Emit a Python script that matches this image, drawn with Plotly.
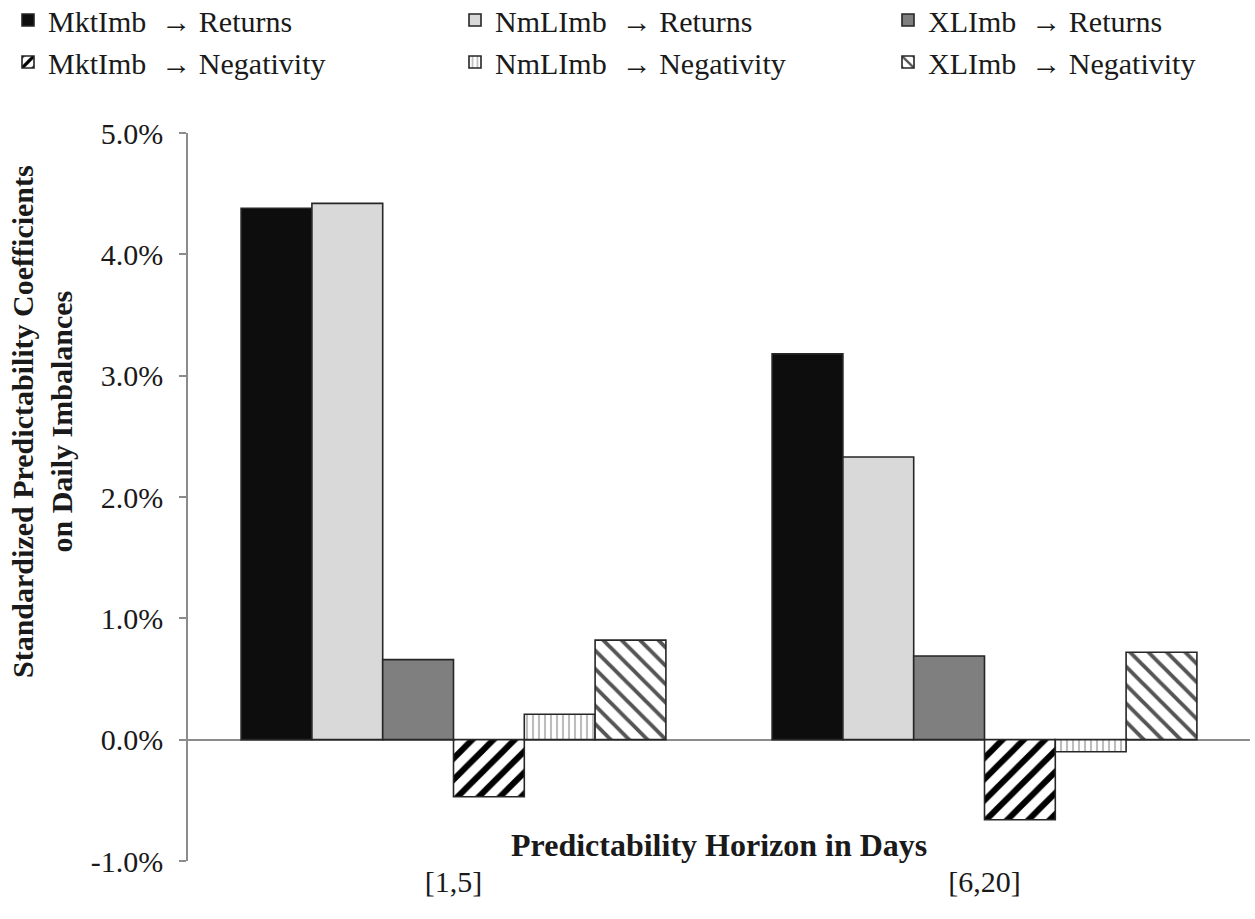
import plotly.graph_objects as go

categories = ["[1,5]", "[6,20]"]
series_names = [
    "MktImb\u00a0 → Returns",
    "NmLImb\u00a0 → Returns",
    "XLImb\u00a0 → Returns",
    "MktImb\u00a0 → Negativity",
    "NmLImb\u00a0 → Negativity",
    "XLImb\u00a0 → Negativity",
]
mkt_returns = [4.38, 3.18]
nml_returns = [4.42, 2.33]
xl_returns = [0.66, 0.69]
mkt_negativity = [-0.47, -0.66]
nml_negativity = [0.21, -0.10]
xl_negativity = [0.82, 0.72]
y_ticks = [-1, 0, 1, 2, 3, 4, 5]

series_values = [mkt_returns, nml_returns, xl_returns,
                 mkt_negativity, nml_negativity, xl_negativity]

styles = [
    dict(color="#0d0d0d", pattern=None, legend="legend"),
    dict(color="#d9d9d9", pattern=None, legend="legend2"),
    dict(color="#7f7f7f", pattern=None, legend="legend3"),
    dict(color="white", pattern=dict(shape="/", fgcolor="#000000", bgcolor="white",
                                      fgopacity=1, size=15, solidity=0.4, fillmode="replace"),
         legend="legend"),
    dict(color="white", pattern=dict(shape="|", fgcolor="#bdbdbd", bgcolor="white",
                                      fgopacity=1, size=6, solidity=0.35, fillmode="replace"),
         legend="legend2"),
    dict(color="white", pattern=dict(shape="\\", fgcolor="#555555", bgcolor="white",
                                      fgopacity=1, size=13, solidity=0.3, fillmode="replace"),
         legend="legend3"),
]

FONT = "Liberation Serif, Times New Roman, serif"

fig = go.Figure()
for i, (name, vals, st) in enumerate(zip(series_names, series_values, styles)):
    marker = dict(color=st["color"], line=dict(color="#262626", width=1.6))
    if st["pattern"] is not None:
        marker["pattern"] = st["pattern"]
    fig.add_trace(go.Bar(
        x=categories, y=vals, name=name, marker=marker,
        legend=st["legend"], legendgroup=f"g{i}",
    ))

W, H = 1255, 919
L, R, T, B = 188, 5, 133, 58
plot_w, plot_h = W - L - R, H - T - B

legend_top = 1 + (T + 6) / plot_h

legend_common = dict(
    orientation="v", xref="container", yref="paper",
    yanchor="top", xanchor="left", y=legend_top,
    font=dict(family=FONT, size=30, color="#1a1a1a"),
    bgcolor="rgba(0,0,0,0)", borderwidth=0,
    tracegroupgap=0, itemwidth=30, traceorder="normal",
)

fig.update_layout(
    width=W, height=H,
    paper_bgcolor="white", plot_bgcolor="white",
    margin=dict(l=L, r=R, t=T, b=B, autoexpand=False),
    barmode="group", bargap=0.2, bargroupgap=0,
    font=dict(family=FONT, size=30, color="#1a1a1a"),
    legend=dict(legend_common, x=8 / W),
    legend2=dict(legend_common, x=455 / W),
    legend3=dict(legend_common, x=888 / W),
    xaxis=dict(
        type="category", showline=False, ticks="", showgrid=False, automargin=False,
        tickfont=dict(family=FONT, size=30, color="#1a1a1a"),
    ),
    yaxis=dict(
        range=[-1, 5], tickvals=y_ticks, automargin=False,
        ticktext=[f"{v:.1f}%" for v in y_ticks],
        showgrid=False, showline=True, linecolor="#8c8c8c", linewidth=1.5,
        ticks="outside", ticklen=7, tickcolor="#8c8c8c", tickwidth=1.5,
        ticklabelstandoff=10,
        zeroline=True, zerolinecolor="#8c8c8c", zerolinewidth=1.5,
        tickfont=dict(family=FONT, size=30, color="#1a1a1a"),
    ),
    showlegend=True,
)

# y-axis title (rotated), placed left of tick labels
fig.add_annotation(
    text="<b>Standardized Predictability Coefficients<br>on Daily Imbalances</b>",
    xref="paper", yref="paper",
    x=(42 - L) / plot_w, y=(T + plot_h - 422) / plot_h,
    xanchor="center", yanchor="middle",
    textangle=-90, showarrow=False,
    font=dict(family=FONT, size=30, color="#1a1a1a"),
)

fig.add_annotation(
    text="<b>Predictability Horizon in Days</b>",
    xref="paper", yref="y", x=0.5, y=-0.865, showarrow=False,
    font=dict(family=FONT, size=32, color="#1a1a1a"),
)

fig.write_html(
    "out.html",
    config={"displayModeBar": False},
    post_script="document.body.style.margin='0';document.body.style.padding='0';",
)
